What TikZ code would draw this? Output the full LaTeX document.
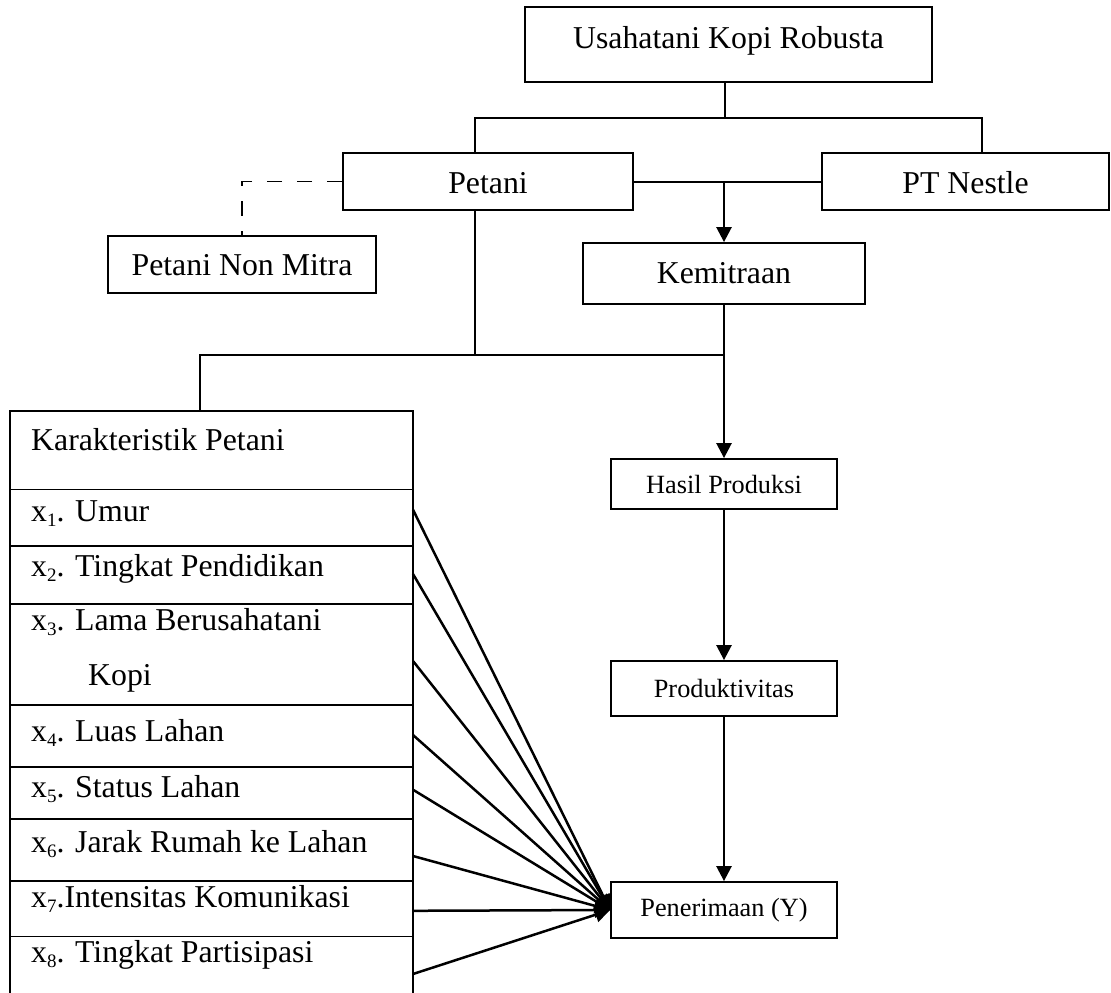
\documentclass[tikz,border=0pt]{standalone}
\usepackage{fontspec}
\setmainfont{Liberation Serif}
\usetikzlibrary{arrows.meta}
\newcommand{\xsub}[1]{x\raisebox{-5pt}{\fontsize{19}{20}\selectfont #1}}
\begin{document}
\begin{tikzpicture}[x=1pt,y=-1pt,
  box/.style={draw,line width=1.8pt,inner sep=0pt,text depth=0pt,font=\fontsize{31.8}{38}\selectfont},
  sbox/.style={box,font=\fontsize{26.3}{32}\selectfont},
  thinln/.style={line width=1.4pt},
  midln/.style={line width=2pt},
  dashln/.style={line width=1.8pt,dash pattern=on 15pt off 15pt},
  arr/.style={line width=2.5pt,-{Triangle[width=15pt,length=15pt]}},
  item/.style={anchor=base west,inner sep=0pt,font=\fontsize{31.8}{38}\selectfont}]
\useasboundingbox (0,0) rectangle (1111,993);

% boxes
\node[box,minimum width=407pt,minimum height=75pt,text height=21pt,text depth=13.4pt] (u) at (728.5,44.5) {Usahatani Kopi Robusta};
\node[box,minimum width=290pt,minimum height=57pt,text height=23.6pt] (p) at (488,181.5) {Petani};
\node[box,minimum width=287pt,minimum height=57pt,text height=23.6pt] (n) at (965.5,181.5) {PT Nestle};
\node[box,minimum width=268pt,minimum height=57pt,text height=22.4pt] (nm) at (242,264.5) {Petani Non Mitra};
\node[box,minimum width=282pt,minimum height=61pt,text height=19.6pt] (k) at (724,273.5) {Kemitraan};
\node[sbox,minimum width=226pt,minimum height=50pt,text height=18.6pt] (h) at (724,484) {Hasil Produksi};
\node[sbox,minimum width=226pt,minimum height=55pt,text height=17pt] (pr) at (724,688.5) {Produktivitas};
\node[sbox,minimum width=226pt,minimum height=56pt,text height=13pt] (y) at (724,910) {Penerimaan (Y)};

% table of characteristics
\draw[line width=1.8pt] (10,993) -- (10,411) -- (413,411) -- (413,993);
\foreach \yy in {489.5,545.7,604.3,704.6,767,819,881,936.5}
  \draw[line width=1.8pt] (10,\yy) -- (413,\yy);
\coordinate (ktop) at (200,411);
\node[item] (k0) at (31,450.3) {Karakteristik Petani};
\node[item] (k1) at (31,521.5) {\xsub{1}. Umur};
\node[item] (k2) at (31,576) {\xsub{2}. Tingkat Pendidikan};
\node[item] (k3) at (31,630.8) {\xsub{3}. Lama Berusahatani};
\node[item] (k3b) at (88,685.6) {Kopi};
\node[item] (k4) at (31,741.7) {\xsub{4}. Luas Lahan};
\node[item] (k5) at (31,797) {\xsub{5}. Status Lahan};
\node[item] (k6) at (31,852) {\xsub{6}. Jarak Rumah ke Lahan};
\node[item] (k7) at (31,907) {\xsub{7}.Intensitas Komunikasi};
\node[item] (k8) at (31,962) {\xsub{8}. Tingkat Partisipasi};

% top tree
\coordinate (t) at (725,118);
\coordinate (tl) at (475,118);
\coordinate (tr) at (982,118);
\draw[thinln] (t |- u.south) -- (t);
\draw[thinln] (p.north -| tl) -- (tl) -- (tr) -- (tr |- n.north);
\draw[midln] (p.east) -- (n.west);
\draw[arr] (k.north |- p.east) -- (k.north);
\draw[dashln] (p.west) -| (nm.north);

% lower tree
\coordinate (pv) at (475,355);
\coordinate (bl) at (200,355);
\draw[midln] (p.south -| pv) -- (pv);
\draw[thinln] (k.south) -- (k.south |- pv);
\draw[midln] (ktop) -- (bl) -- (k.south |- pv);
\draw[arr] (k.south |- pv) -- (h.north);
\draw[arr] (h.south) -- (pr.north);
\draw[arr] (pr.south) -- (y.north);

% fan of arrows
\foreach \i/\yy in {1/509.7,2/574,3/661,4/735,5/789.7,6/856,7/910.8,8/974}{
  \coordinate (s\i) at (413,\yy);
  \draw[arr] (s\i) -- (y.west);
}
\end{tikzpicture}
\end{document}
